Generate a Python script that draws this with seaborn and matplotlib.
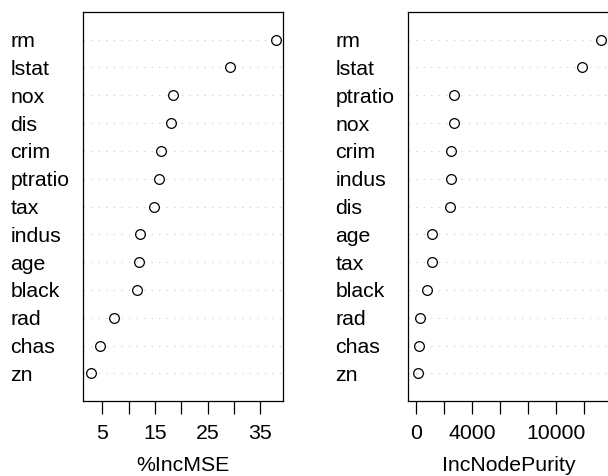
import matplotlib
matplotlib.use('Agg')
import numpy as np
import pandas as pd
import matplotlib.pyplot as plt
import seaborn as sns

# importancia de variables (randomForest, Boston)
vars_mse = ['rm', 'lstat', 'nox', 'dis', 'crim', 'ptratio', 'tax',
            'indus', 'age', 'black', 'rad', 'chas', 'zn']
inc_mse = [37.96, 29.18, 18.49, 17.98, 16.08, 15.83, 14.75,
           12.09, 11.90, 11.52, 7.28, 4.56, 2.80]

vars_pur = ['rm', 'lstat', 'ptratio', 'nox', 'crim', 'indus', 'dis',
            'age', 'tax', 'black', 'rad', 'chas', 'zn']
inc_pur = [13250, 11850, 2745, 2722, 2530, 2508, 2437,
           1192, 1168, 834, 332, 213, 189]

ticks_mse = [5, 10, 15, 20, 25, 30, 35]
labels_mse = ['5', '', '15', '', '25', '', '35']
ticks_pur = [0, 2000, 4000, 6000, 8000, 10000, 12000]
labels_pur = ['0', '', '4000', '', '', '10000', '']

sns.set_theme(style="white")
plt.rcParams['font.family'] = ['Liberation Sans', 'DejaVu Sans']
plt.rcParams['text.color'] = 'black'
plt.rcParams['axes.labelcolor'] = 'black'
plt.rcParams['xtick.color'] = 'black'
plt.rcParams['ytick.color'] = 'black'

W, H = 608, 476
fig = plt.figure(figsize=(W / 100, H / 100), dpi=100)
ax1 = fig.add_axes([83.3 / W, 1 - 401.3 / H, 200 / W, 389.6 / H])
ax2 = fig.add_axes([408.3 / W, 1 - 401.3 / H, 200.5 / W, 389.6 / H])


def dotchart(ax, nombres, valores, xmin, ticks, etiquetas, titulo):
    df = pd.DataFrame({'var': nombres, 'val': valores})
    sns.pointplot(data=df, x='val', y='var', order=nombres, ax=ax,
                  linestyle='none', errorbar=None, color='black',
                  marker='o', markersize=7, markeredgewidth=0.9,
                  markerfacecolor='none', markeredgecolor='black')
    xmax = max(valores)
    r = xmax - xmin
    ax.set_xlim(xmin - 0.04 * r, xmax + 0.04 * r)
    ax.set_ylim(len(nombres), -1)
    ax.set_xticks(ticks)
    ax.set_xticklabels(etiquetas)
    ax.grid(axis='y', color='#d3d3d3', linestyle=(0, (1.3, 5.5)), linewidth=0.8)
    ax.grid(axis='x', visible=False)
    ax.set_axisbelow(True)
    ax.tick_params(axis='y', length=0, pad=52.5, labelsize=15.3, labelcolor='black')
    for t in ax.get_yticklabels():
        t.set_horizontalalignment('left')
    ax.tick_params(axis='x', direction='out', length=9, width=0.9,
                   color='black', pad=7.5, labelsize=15.3, labelcolor='black',
                   bottom=True)
    ax.set_xlabel(titulo, fontsize=15.3, labelpad=9, color='black')
    ax.set_ylabel('')
    for s in ax.spines.values():
        s.set_color('black')
        s.set_linewidth(0.9)
        s.set_visible(True)


dotchart(ax1, vars_mse, inc_mse, min(inc_mse), ticks_mse, labels_mse, '%IncMSE')
dotchart(ax2, vars_pur, inc_pur, 0, ticks_pur, labels_pur, 'IncNodePurity')

fig.savefig('out.png', dpi=100)
